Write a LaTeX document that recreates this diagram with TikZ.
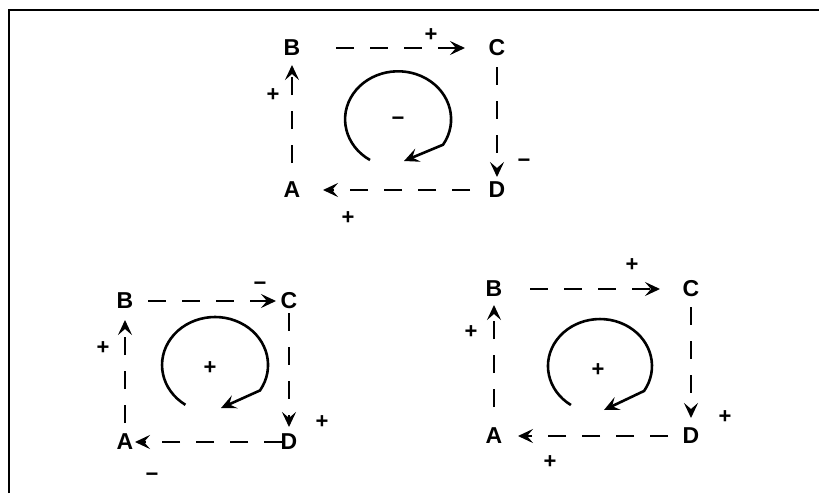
\documentclass[tikz,border=0pt]{standalone}
\usepackage{fontspec}
\setmainfont{Liberation Sans}
\usetikzlibrary{arrows.meta}

\begin{document}
\begin{tikzpicture}[x=1pt,y=-1pt,line width=2.6pt,
  corner/.style={font=\fontsize{23}{23}\selectfont\bfseries,inner sep=0pt},
  sgn/.style={font=\fontsize{22}{22}\selectfont\bfseries,inner sep=0pt},
  flow/.style={dash pattern=on 18pt off 16pt,-{Stealth[length=15pt,width=14pt,inset=6pt]}},
  ring/.style={-{Stealth[length=15pt,width=14pt,inset=6pt]}}]
\useasboundingbox (0,0) rectangle (819,493);
\draw[line width=2.4pt] (9,493) -- (9,10) -- (819,10);

% top loop
\node[corner] (tB) at (292,48) {B};
\node[corner] (tC) at (497,48) {C};
\node[corner] (tA) at (292,190) {A};
\node[corner] (tD) at (497,190) {D};
\draw[flow,shorten <=44pt,shorten >=32pt] (tB.center) -- (tC.center);
\draw[flow,shorten <=19pt,shorten >=13pt] (tC.center) -- (tD.center);
\draw[flow,shorten <=27pt,shorten >=31pt] (tD.center) -- (tA.center);
\draw[flow,shorten <=27pt,shorten >=17pt] (tA.center) -- (tB.center);
\node[sgn] (tsBC) at (431,35) {+};
\node[sgn] (tsCD) at (524,163) {−};
\node[sgn] (tsDA) at (348,218) {+};
\node[sgn] (tsAB) at (273,95) {+};
\node[sgn] (tsm) at (398,121) {−};
\draw[ring] (370,160) arc[start angle=122,end angle=392,x radius=53,y radius=48]
  -- (404,161);

% bottom left loop
\node[corner] (lB) at (125,301) {B};
\node[corner] (lC) at (289,301) {C};
\node[corner] (lA) at (125,442) {A};
\node[corner] (lD) at (289,442) {D};
\draw[flow,shorten <=23pt,shorten >=13pt] (lB.center) -- (lC.center);
\draw[flow,shorten <=12pt,shorten >=15pt] (lC.center) -- (lD.center);
\draw[flow,shorten <=7pt,shorten >=10pt] (lD.center) -- (lA.center);
\draw[flow,shorten <=19pt,shorten >=19pt] (lA.center) -- (lB.center);
\node[sgn] (lsBC) at (260,286) {−};
\node[sgn] (lsCD) at (322,422) {+};
\node[sgn] (lsDA) at (152,477) {−};
\node[sgn] (lsAB) at (103,348) {+};
\node[sgn] (lsm) at (210,368) {+};
\draw[ring] (185.4,404.8) arc[start angle=124,end angle=392,x radius=53,y radius=48]
  -- (221,408);

% bottom right loop
\node[corner] (rB) at (494,289) {B};
\node[corner] (rC) at (691,289) {C};
\node[corner] (rA) at (494,436) {A};
\node[corner] (rD) at (691,436) {D};
\draw[flow,shorten <=36pt,shorten >=31pt] (rB.center) -- (rC.center);
\draw[flow,shorten <=18pt,shorten >=18pt] (rC.center) -- (rD.center);
\draw[flow,shorten <=23pt,shorten >=24pt] (rD.center) -- (rA.center);
\draw[flow,shorten <=29pt,shorten >=16pt] (rA.center) -- (rB.center);
\node[sgn] (rsBC) at (632,265) {+};
\node[sgn] (rsCD) at (725,417) {+};
\node[sgn] (rsDA) at (550,462) {+};
\node[sgn] (rsAB) at (471,332) {+};
\node[sgn] (rsm) at (598,370) {+};
\draw[ring] (570.9,405) arc[start angle=124,end angle=392,x radius=52,y radius=47]
  -- (604,410);
\end{tikzpicture}
\end{document}
